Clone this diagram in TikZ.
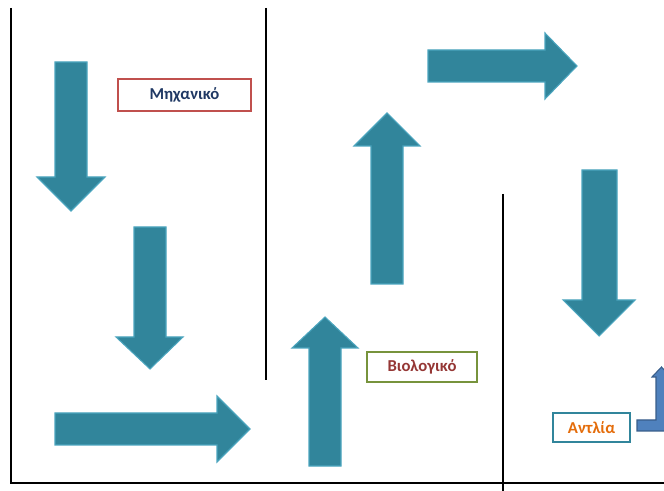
\documentclass[tikz,border=0pt]{standalone}
\usepackage{fontspec}
\setmainfont{Carlito}
\begin{document}
\begin{tikzpicture}[x=0.75pt,y=-0.75pt,
  tealarrow/.style={fill={rgb,255:red,49;green,133;blue,155}, draw={rgb,255:red,75;green,165;blue,190}, line width=0.8pt, line join=miter},
  bluearrow/.style={fill={rgb,255:red,79;green,129;blue,189}, draw={rgb,255:red,56;green,93;blue,138}, line width=0.8pt},
  wall/.style={draw=black, line width=1.8pt},
  lbl/.style={line width=2.2pt, fill=white, inner sep=0pt, font=\fontsize{12.5}{14}\selectfont\bfseries}]
\useasboundingbox (0,0) rectangle (664,491);
% walls
\draw[wall] (11,8) -- (11,483) -- (664,483);
\draw[wall] (266,8) -- (266,380);
\draw[wall] (503,194) -- (503,491);
% arrows
\path[tealarrow] (55,62) -- (87,62) -- (87,177) -- (105,177) -- (71,211) -- (37,177) -- (55,177) -- cycle;
\path[tealarrow] (134,227) -- (166,227) -- (166,337) -- (183,337) -- (150,369) -- (116,337) -- (134,337) -- cycle;
\path[tealarrow] (55,413) -- (217,413) -- (217,396) -- (250,429) -- (217,462) -- (217,445) -- (55,445) -- cycle;
\path[tealarrow] (309,466) -- (309,348) -- (292,348) -- (325,317) -- (358,348) -- (341,348) -- (341,466) -- cycle;
\path[tealarrow] (371,284) -- (371,146) -- (354,146) -- (387,113) -- (420,146) -- (403,146) -- (403,284) -- cycle;
\path[tealarrow] (428,50) -- (545,50) -- (545,33) -- (577,66) -- (545,99) -- (545,82) -- (428,82) -- cycle;
\path[tealarrow] (582,170) -- (617,170) -- (617,300) -- (635,300) -- (599,336) -- (563,300) -- (582,300) -- cycle;
% bent-up arrow (clipped at right edge)
\begin{scope}
\clip (0,0) rectangle (664,491);
\path[bluearrow] (637,420) -- (656,420) -- (656,377) -- (652,377) -- (661.5,367) -- (671,377) -- (667,377) -- (667,431) -- (637,431) -- cycle;
\end{scope}
% labels
\node (mech) [lbl, draw={rgb,255:red,192;green,80;blue,77}, minimum width=99.75pt, minimum height=24pt, text={rgb,255:red,31;green,56;blue,100}] at (184.5,95) {Μηχανικό};
\node (bio) [lbl, draw={rgb,255:red,119;green,147;blue,60}, minimum width=82.5pt, minimum height=22.5pt, text={rgb,255:red,149;green,55;blue,53}] at (422,367) {Βιολογικό};
\node (antl) [lbl, draw={rgb,255:red,49;green,133;blue,155}, minimum width=57.75pt, minimum height=21.75pt, text={rgb,255:red,228;green,108;blue,10}] at (591.5,427.5) {Αντλία};
\end{tikzpicture}
\end{document}
